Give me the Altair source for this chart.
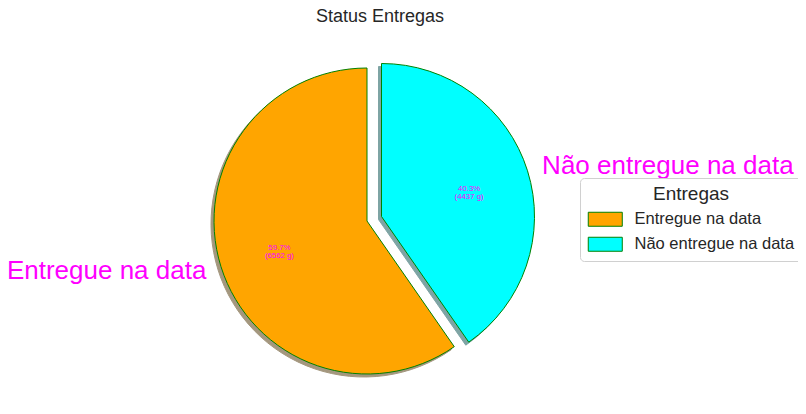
import altair as alt
import pandas as pd
import math

categories = ["Entregue na data", "Não entregue na data"]
values = [6562, 4437]
colors = ["#FFA500", "#00FFFF"]
shadow_colors = ["#4C3200", "#004C4C"]
title_text = "Status Entregas"

df = pd.DataFrame({"cat": categories, "value": values})

R = 153
C_ORANGE = (359, 213)
C_CYAN = (373.5, 208.5)
FONT = "Liberation Sans"

base = alt.Chart(df).transform_joinaggregate(
    total="sum(value)"
).transform_window(
    cum="sum(value)", sort=[alt.SortField("value", order="ascending")], frame=[None, 0]
).transform_calculate(
    start="(datum.cum - datum.value) / datum.total",
    end="datum.cum / datum.total",
    mid="(datum.cum - datum.value / 2) / datum.total",
    pct="[format(datum.value / datum.total * 100, '.1f') + '%', '(' + datum.value + ' g)']",
)

theta_scale = alt.Scale(domain=[0, 1], range=[0, 2 * math.pi])
color_scale = alt.Scale(domain=categories, range=colors)


def wedge_layers(cat, center, shadow_color):
    sub = base.transform_filter(alt.datum.cat == cat)
    shadow = sub.mark_arc(radius=R, fill=shadow_color, opacity=0.5, stroke=shadow_color, strokeWidth=1).encode(
        theta=alt.Theta("start:Q", scale=theta_scale),
        theta2="end:Q",
        x=alt.value(center[0] - 3),
        y=alt.value(center[1] + 3),
    )
    wedge = sub.mark_arc(radius=R, stroke="green", strokeWidth=1).encode(
        theta=alt.Theta("start:Q", scale=theta_scale),
        theta2="end:Q",
        x=alt.value(center[0]),
        y=alt.value(center[1]),
        fill=alt.Fill(
            "cat:N",
            scale=color_scale,
            legend=alt.Legend(
                title="Entregas",
                orient="none",
                legendX=572,
                legendY=170,
                padding=7,
                strokeColor="#d0d0d0",
                fillColor="white",
                cornerRadius=4,
                titleFont=FONT,
                titleFontSize=19,
                titleFontWeight="normal",
                titleColor="#262626",
                titleAnchor="middle",
                titlePadding=7,
                labelFont=FONT,
                labelFontSize=16.5,
                labelColor="#262626",
                labelOffset=31,
                symbolType="M-1,-1H3.86V1H-1Z",
                symbolSize=196,
                symbolStrokeColor="green",
                symbolStrokeWidth=1,
                symbolOpacity=1,
                rowPadding=6,
            ),
        ),
    )
    pct = sub.mark_text(radius=R * 0.6, font=FONT, fontSize=7.8, color="#FF00FF", baseline="middle", lineHeight=8).encode(
        theta=alt.Theta("mid:Q", scale=theta_scale),
        x=alt.value(center[0]),
        y=alt.value(center[1]),
        text="pct:N",
    )
    return shadow, wedge, pct


s_c, w_c, p_c = wedge_layers(categories[1], C_CYAN, shadow_colors[1])
s_o, w_o, p_o = wedge_layers(categories[0], C_ORANGE, shadow_colors[0])

lab_o = base.transform_filter(alt.datum.cat == categories[0]).mark_text(
    radius=R * 1.1, font=FONT, fontSize=26, color="#FF00FF", align="right", baseline="middle"
).encode(
    theta=alt.Theta("mid:Q", scale=theta_scale),
    x=alt.value(C_ORANGE[0]),
    y=alt.value(C_ORANGE[1]),
    text="cat:N",
)
lab_c = base.transform_filter(alt.datum.cat == categories[1]).mark_text(
    radius=R * 1.1, font=FONT, fontSize=26, color="#FF00FF", align="left", baseline="middle"
).encode(
    theta=alt.Theta("mid:Q", scale=theta_scale),
    x=alt.value(C_CYAN[0]),
    y=alt.value(C_CYAN[1]),
    text="cat:N",
)

title = alt.Chart(pd.DataFrame({"t": [title_text]})).mark_text(
    font=FONT, fontSize=18, color="#262626", baseline="alphabetic"
).encode(text="t:N", x=alt.value(372), y=alt.value(14))

chart = alt.layer(
    s_o, s_c, w_o, w_c, p_o, p_c, lab_o, lab_c, title
).properties(
    width=790, height=398, autosize=alt.AutoSizeParams(type="none"), padding=0, background="white"
).configure_view(stroke=None)

chart.save("out.html", embed_options={"renderer": "svg", "actions": False})
